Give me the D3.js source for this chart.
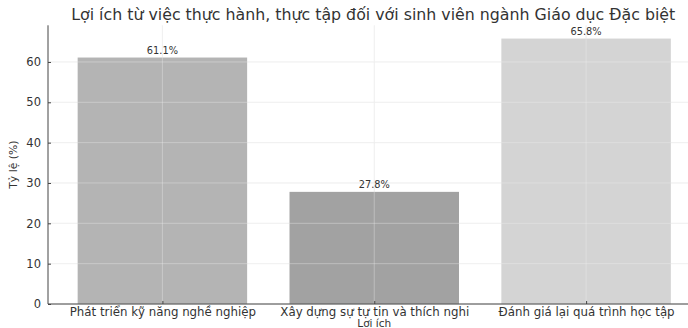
<!DOCTYPE html>
<html><head><meta charset="utf-8">
<script src="https://cdn.jsdelivr.net/npm/d3@7"></script>
<style>html,body{margin:0;padding:0;background:#fff;overflow:hidden}</style>
</head><body><svg id="c" width="688" height="328"></svg>
<script>
const categories = ["Phát triển kỹ năng nghề nghiệp", "Xây dựng sự tự tin và thích nghi", "Đánh giá lại quá trình học tập"];
const values = [61.1, 27.8, 65.8];
const barColors = ["#b4b4b4", "#a2a2a2", "#d4d4d4"];
const yTicks = [0, 10, 20, 30, 40, 50, 60];
const title = "Lợi ích từ việc thực hành, thực tập đối với sinh viên ngành Giáo dục Đặc biệt";
const xLabel = "Lợi ích";
const yLabel = "Tỷ lệ (%)";

const svg = d3.select("#c");
const font = "DejaVu Sans, sans-serif";
const mL = 48, mR = 700.5, mT = 25.3, mB = 304;

const x = d3.scaleLinear().domain([-0.54, 2.54]).range([mL, mR]);
const y = d3.scaleLinear().domain([0, d3.max(values) * 1.05]).range([mB, mT]);

const g = svg.append("g");
g.selectAll("line.hg").data(yTicks).join("line")
  .attr("x1", mL).attr("x2", mR).attr("y1", d => y(d)).attr("y2", d => y(d))
  .attr("stroke", "#ececec").attr("stroke-width", 0.8);
g.selectAll("line.vg").data(categories).join("line")
  .attr("x1", (d, i) => x(i)).attr("x2", (d, i) => x(i)).attr("y1", mT).attr("y2", mB)
  .attr("stroke", "#ececec").attr("stroke-width", 0.8);

const bw = x(0.4) - x(-0.4);
g.selectAll("rect.bar").data(values).join("rect")
  .attr("x", (d, i) => x(i) - bw / 2).attr("width", bw)
  .attr("y", d => y(d)).attr("height", d => mB - y(d))
  .attr("fill", (d, i) => barColors[i]);

g.selectAll("line.hg2").data(yTicks).join("line")
  .attr("x1", mL).attr("x2", mR).attr("y1", d => y(d)).attr("y2", d => y(d))
  .attr("stroke", "#f0f0f0").attr("stroke-opacity", 0.45).attr("stroke-width", 0.8);
g.selectAll("line.vg2").data(categories).join("line")
  .attr("x1", (d, i) => x(i)).attr("x2", (d, i) => x(i)).attr("y1", mT).attr("y2", mB)
  .attr("stroke", "#f0f0f0").attr("stroke-opacity", 0.45).attr("stroke-width", 0.8);

g.selectAll("text.val").data(values).join("text")
  .attr("x", (d, i) => x(i)).attr("y", d => y(d) - 4)
  .attr("text-anchor", "middle").attr("font-family", font).attr("font-size", 9.8)
  .attr("fill", "#333").text(d => d.toFixed(1) + "%");

const ya = d3.axisLeft(y).tickValues(yTicks).tickSize(-3).tickPadding(7).tickFormat(d3.format("d"));
const yg = svg.append("g").attr("transform", `translate(${mL},0)`).call(ya);
yg.select(".domain").attr("d", `M0,${mT}V${mB}`).attr("stroke", "#444");
yg.selectAll("text").attr("font-family", font).attr("font-size", 11.5).attr("fill", "#333");
yg.selectAll(".tick line").attr("stroke", "#444");

const xa = d3.axisBottom(x).tickValues([0, 1, 2]).tickSize(-3).tickPadding(4).tickFormat(i => categories[i]);
const xg = svg.append("g").attr("transform", `translate(0,${mB})`).call(xa);
xg.select(".domain").attr("d", `M${mL},0H${mR}`).attr("stroke", "#444");
xg.selectAll("text").attr("font-family", font).attr("font-size", 11.8).attr("fill", "#333");
xg.selectAll(".tick line").attr("stroke", "#444");

svg.append("text").attr("x", (mL + mR) / 2).attr("y", 326.5)
  .attr("text-anchor", "middle").attr("font-family", font).attr("font-size", 10.5)
  .attr("fill", "#333").text(xLabel);
svg.append("text").attr("transform", `translate(17,${(mT + mB) / 2}) rotate(-90)`)
  .attr("text-anchor", "middle").attr("font-family", font).attr("font-size", 10.8)
  .attr("fill", "#333").text(yLabel);
svg.append("text").attr("x", (mL + mR) / 2 - 1).attr("y", 20)
  .attr("text-anchor", "middle").attr("font-family", font).attr("font-size", 15.8)
  .attr("fill", "#333").text(title);
</script></body></html>
